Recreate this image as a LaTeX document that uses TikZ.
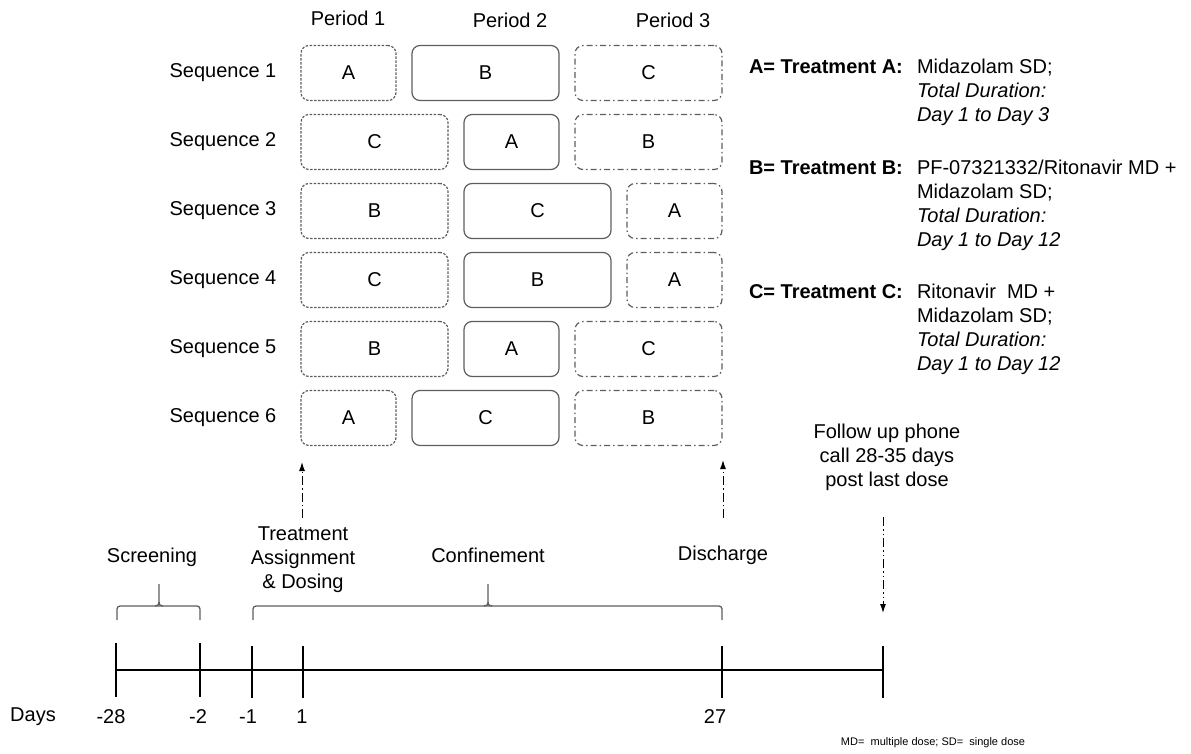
\documentclass[tikz,border=0pt]{standalone}
\usepackage{fontspec}
\setmainfont{Liberation Sans}
\usepackage{xcolor}
\usetikzlibrary{arrows.meta,positioning}
\definecolor{boxgray}{HTML}{5E5E5E}

\begin{document}
\begin{tikzpicture}[x=1pt, y=-1pt,
    every node/.style={font=\fontsize{20}{24}\selectfont, inner sep=0pt, outer sep=0pt},
    trt/.style={draw=boxgray, line width=1.2pt, rounded corners=8pt, minimum height=55pt},
    shortbox/.style={trt, minimum width=95pt},
    longbox/.style={trt, minimum width=147pt},
    firstbox/.style={dash pattern=on 2.5pt off 1.5pt},
    midbox/.style={solid},
    lastbox/.style={dash pattern=on 6pt off 3pt on 1.5pt off 3pt},
    dasharrow/.style={line width=1pt, dash pattern=on 9pt off 3pt on 1.5pt off 3pt, -{Latex[length=9pt,width=6pt]}},
    bracegray/.style={draw=boxgray, line width=1.3pt}]
    \useasboundingbox (0,0) rectangle (1191,754);
    % periods
    \node (per1) at (348,18) {Period 1};
    \node (per2) at (510,20) {Period 2};
    \node (per3) at (673,20) {Period 3};
    % sequences
    \node (q1) at (223,73) {Sequence 1};
    \node (q2) at (223,142) {Sequence 2};
    \node (q3) at (223,211) {Sequence 3};
    \node (q4) at (223,280) {Sequence 4};
    \node (q5) at (223,349) {Sequence 5};
    \node (q6) at (223,418) {Sequence 6};
    \node[shortbox,firstbox,anchor=west] (s1a) at (301,73) {A};
    \node[longbox,midbox,right=16pt of s1a] (s1b) {B};
    \node[longbox,lastbox,right=16pt of s1b] (s1c) {C};
    \node[longbox,firstbox,anchor=west] (s2a) at (301,142) {C};
    \node[shortbox,midbox,right=16pt of s2a] (s2b) {A};
    \node[longbox,lastbox,right=16pt of s2b] (s2c) {B};
    \node[longbox,firstbox,anchor=west] (s3a) at (301,211) {B};
    \node[longbox,midbox,right=16pt of s3a] (s3b) {C};
    \node[shortbox,lastbox,right=16pt of s3b] (s3c) {A};
    \node[longbox,firstbox,anchor=west] (s4a) at (301,280) {C};
    \node[longbox,midbox,right=16pt of s4a] (s4b) {B};
    \node[shortbox,lastbox,right=16pt of s4b] (s4c) {A};
    \node[longbox,firstbox,anchor=west] (s5a) at (301,349) {B};
    \node[shortbox,midbox,right=16pt of s5a] (s5b) {A};
    \node[longbox,lastbox,right=16pt of s5b] (s5c) {C};
    \node[shortbox,firstbox,anchor=west] (s6a) at (301,418) {A};
    \node[longbox,midbox,right=16pt of s6a] (s6b) {C};
    \node[longbox,lastbox,right=16pt of s6b] (s6c) {B};
    % treatments
    \node[anchor=west] (legA) at (749,67) {\textbf{A= Treatment A:}};
    \node[anchor=north west, align=left] (txtA) at (917,59) {Midazolam SD;\\ \textit{Total Duration:}\\ \textit{Day 1 to Day 3}};
    \node[anchor=west] (legB) at (749,168) {\textbf{B= Treatment B:}};
    \node[anchor=north west, align=left] (txtB) at (917,160) {PF-07321332/Ritonavir MD +\\ Midazolam SD;\\ \textit{Total Duration:}\\ \textit{Day 1 to Day 12}};
    \node[anchor=west] (legC) at (749,292) {\textbf{C= Treatment C:}};
    \node[anchor=north west, align=left] (txtC) at (917,284) {Ritonavir~ MD +\\ Midazolam SD;\\ \textit{Total Duration:}\\ \textit{Day 1 to Day 12}};
    % time line
    \node (screen) at (152,557) {Screening};
    \node[align=center] (assign) at (303,560) {Treatment\\ Assignment\\ \& Dosing};
    \node (confine) at (488,555) {Confinement};
    \node (disch) at (723,555) {Discharge};
    \node[align=center] (follow) at (887,457) {Follow up phone\\ call 28-35 days\\ post last dose};
    \draw[bracegray, rounded corners=3pt] (117,620) -- (117,606) -- (200,606) -- (200,620);
    \draw[bracegray] (155,606) .. controls (158,606) and (159,605) .. (159,601) -- (159,584)
        (163,606) .. controls (160,606) and (159,605) .. (159,601);
    \draw[bracegray, rounded corners=3pt] (253,620) -- (253,606) -- (722,606) -- (722,620);
    \draw[bracegray] (484,606) .. controls (487,606) and (488,605) .. (488,601) -- (488,584)
        (492,606) .. controls (489,606) and (488,605) .. (488,601);
    \coordinate (dose) at (302,518);
    \coordinate (start) at (302,462);
    \coordinate (out) at (723,518);
    \coordinate (stop) at (723,460);
    \coordinate (call) at (883,517);
    \coordinate (callend) at (883,613);
    \draw[dasharrow] (dose) -- (start);
    \draw[dasharrow] (out) -- (stop);
    \draw[dasharrow, dash pattern=on 9pt off 3pt on 1.5pt off 3pt on 1.5pt off 3pt] (call) -- (callend);
    \draw[line width=2pt] (116,670) -- (883,670);
    \draw[line width=2pt] (116,643) -- (116,697) (200,643) -- (200,697) (252,646) -- (252,698)
        (303,646) -- (303,698) (722,646) -- (722,698) (883,646) -- (883,698);
    \node (days) at (33,717) {Days};
    \node (dm28) at (111,717) {-28};
    \node (dm2) at (198,717) {-2};
    \node (dm1) at (248,717) {-1};
    \node (dp1) at (302,717) {1};
    \node (dp27) at (715,717) {27};
    \node[font=\fontsize{11}{13}\selectfont] (note) at (933,743) {MD=\ \ multiple dose; SD=\ \ single dose};
  \end{tikzpicture}
\end{document}
